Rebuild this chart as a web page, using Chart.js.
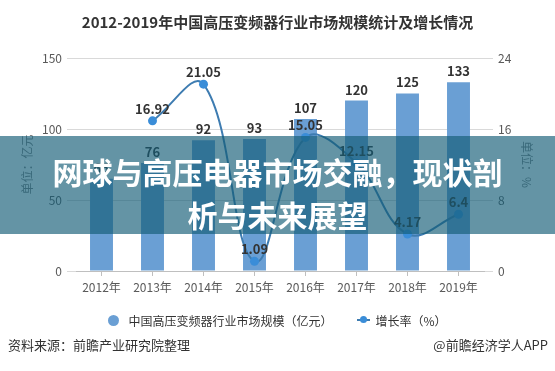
<!DOCTYPE html>
<html><head><meta charset="utf-8">
<script src="https://cdn.jsdelivr.net/npm/chart.js@4.4.1/dist/chart.umd.min.js"></script>
<style>
html,body{margin:0;padding:0;background:#fff;}
#wrap{position:relative;width:555px;height:371px;overflow:hidden;font-family:"Noto Sans CJK SC","Noto Sans",sans-serif;}
canvas{position:absolute;left:0;top:0;}
#banner{position:absolute;left:0;top:136px;width:555px;height:98px;background:rgba(20,93,119,0.66);color:#fff;font-weight:700;font-size:30px;line-height:43px;text-align:center;padding-top:14px;box-sizing:border-box;}
.foot{position:absolute;top:335px;font-size:13px;color:#333;line-height:20px;}
#legend{position:absolute;left:0;top:310px;width:555px;height:20px;display:flex;justify-content:center;align-items:center;font-size:12px;color:#333;}
#legend .it{display:flex;align-items:center;}
.dot{width:11px;height:11px;border-radius:50%;background:#6a9fd4;margin-right:9px;}
.ln{position:relative;width:13px;height:2px;background:#3e7cb1;margin-right:5px;}
.ln:after{content:"";position:absolute;left:3px;top:-3px;width:7px;height:7px;border-radius:50%;background:#3a8dd8;}
</style></head><body>
<div id="wrap">
<canvas id="c" width="555" height="371"></canvas>
<div id="legend"><div class="it"><span class="dot"></span>中国高压变频器行业市场规模（亿元）</div><div class="it" style="margin-left:25px"><span class="ln"></span>增长率（%）</div></div>
<div class="foot" style="left:8px">资料来源：前瞻产业研究院整理</div>
<div class="foot" style="right:7px">@前瞻经济学人APP</div>
<div id="banner">网球与高压电器市场交融，现状剖<br>析与未来展望</div>
</div>
<script>
const categories = ['2012年','2013年','2014年','2015年','2016年','2017年','2018年','2019年'];
const marketSize = [65, 76, 92, 93, 107, 120, 125, 133];
const growthRate = [null, 16.92, 21.05, 1.09, 15.05, 12.15, 4.17, 6.4];
const leftTicks = [0, 50, 100, 150];
const rightTicks = [0, 8, 16, 24];

const FONT = '"Noto Sans CJK SC","Noto Sans",sans-serif';
const valueLabels = {
  id: 'valueLabels',
  afterDatasetsDraw(chart) {
    const ctx = chart.ctx;
    ctx.save();
    ctx.font = 'bold 13px ' + FONT;
    ctx.fillStyle = '#333';
    ctx.textAlign = 'center';
    ctx.textBaseline = 'middle';
    chart.data.datasets.forEach((ds, i) => {
      const meta = chart.getDatasetMeta(i);
      meta.data.forEach((el, j) => {
        const v = ds.data[j];
        if (v == null) return;
        const off = ds.type === 'line' ? 12 : 11;
        ctx.fillText(String(v), el.x, el.y - off);
      });
    });
    ctx.restore();
  }
};

new Chart(document.getElementById('c'), {
  data: {
    labels: categories,
    datasets: [
      { type: 'line', label: '增长率（%）', data: growthRate, yAxisID: 'y1', order: 1,
        borderColor: '#3e7cb1', borderWidth: 2, tension: 0.4,
        pointRadius: 4.5, pointBackgroundColor: '#3a8dd8', pointBorderWidth: 0 },
      { type: 'bar', label: '中国高压变频器行业市场规模（亿元）', data: marketSize, yAxisID: 'y', order: 2,
        backgroundColor: '#6a9fd4', categoryPercentage: 1, barPercentage: 0.45 }
    ]
  },
  options: {
    responsive: false,
    animation: false,
    devicePixelRatio: 1,
    layout: { padding: { left: 0, right: 0, top: 0, bottom: 67 } },
    plugins: {
      legend: { display: false },
      tooltip: { enabled: false },
      title: { display: true, text: '2012-2019年中国高压变频器行业市场规模统计及增长情况',
        color: '#333', font: { size: 15, weight: 'bold', family: FONT }, padding: { top: 13, bottom: 27 } }
    },
    scales: {
      x: {
        offset: true,
        grid: { offset: false, drawOnChartArea: false, tickLength: 5, color: '#bfbfbf' },
        border: { color: '#bfbfbf' },
        ticks: { color: '#595959', font: { size: 12, family: FONT }, padding: 4, maxRotation: 0 },
        afterFit(s) { s.height = 33; }
      },
      y: {
        position: 'left', min: 0, max: 150,
        afterBuildTicks(s) { s.ticks = leftTicks.map(v => ({ value: v })); },
        grid: { color: '#d9d9d9', tickLength: 9 },
        border: { display: false },
        ticks: { color: '#595959', font: { size: 12, family: FONT }, padding: 5 },
        title: { display: true, text: '单位：亿元', color: '#7f7f7f', font: { size: 12, family: FONT }, padding: { top: 20, bottom: 0 } },
        afterFit(s) { s.width = 76; }
      },
      y1: {
        position: 'right', min: 0, max: 24,
        afterBuildTicks(s) { s.ticks = rightTicks.map(v => ({ value: v })); },
        grid: { color: '#d9d9d9', tickLength: 9, drawOnChartArea: false },
        border: { display: false },
        ticks: { color: '#595959', font: { size: 12, family: FONT }, padding: 5 },
        title: { display: true, text: '单位：%', color: '#7f7f7f', font: { size: 12, family: FONT }, padding: { top: 21, bottom: 0 } },
        afterFit(s) { s.width = 71; }
      }
    }
  },
  plugins: [valueLabels]
});
</script>
</body></html>
